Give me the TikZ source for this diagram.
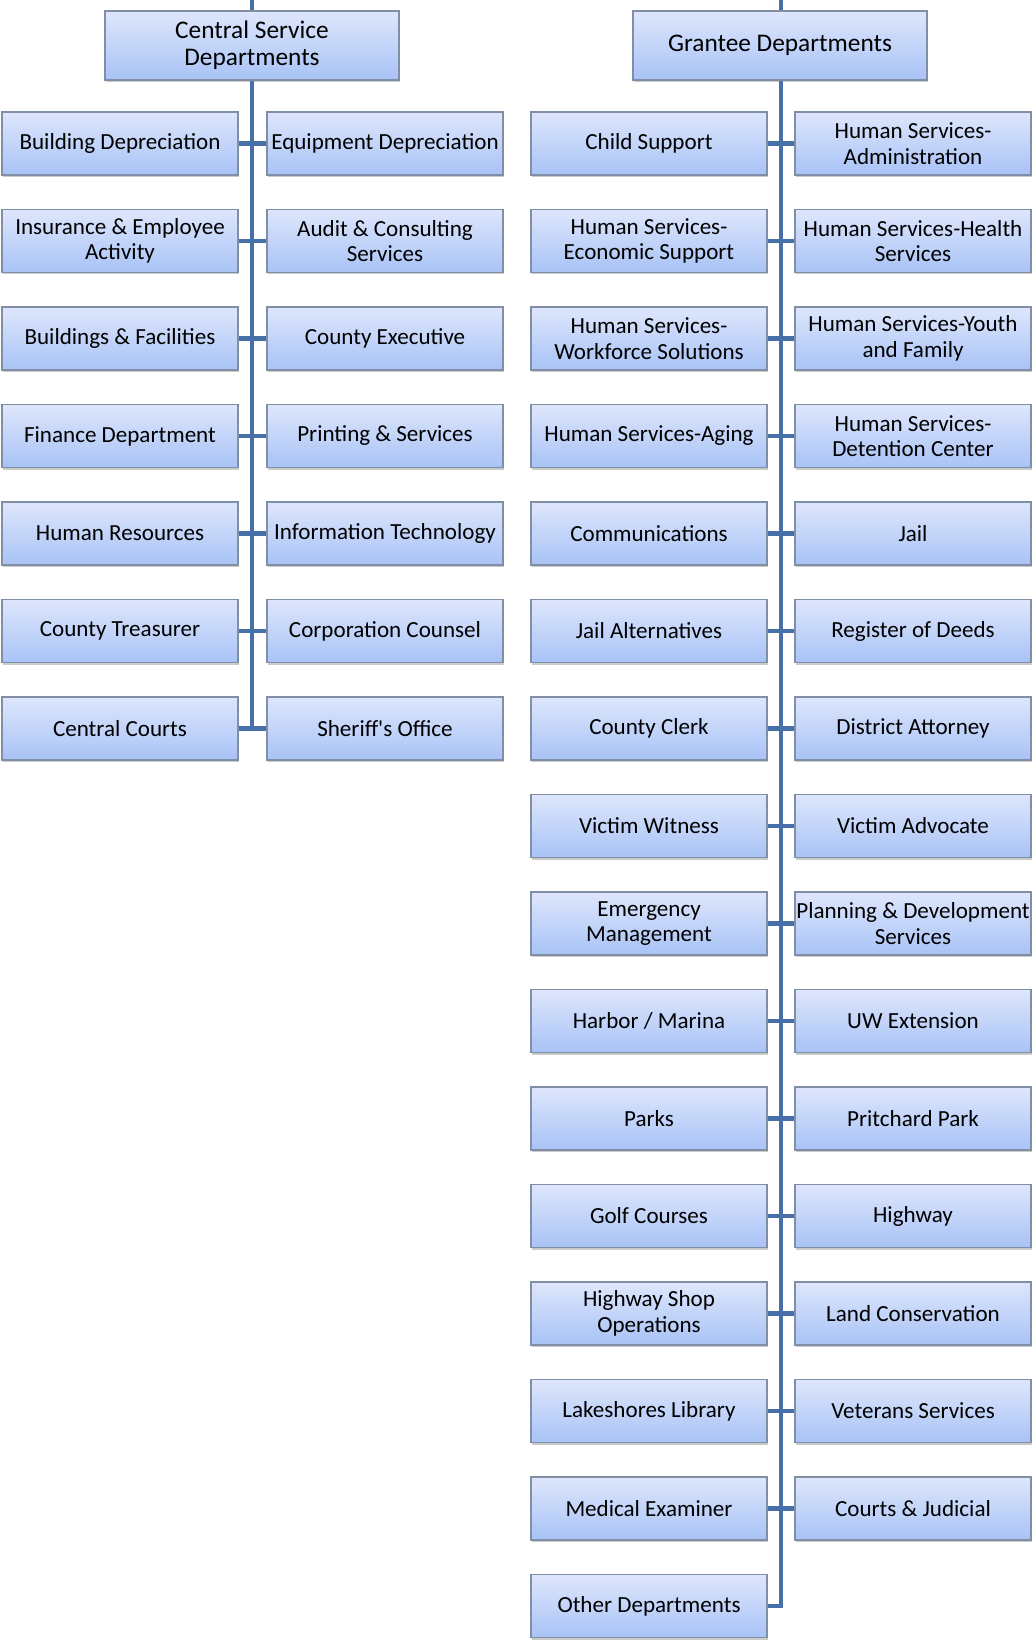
\documentclass[tikz,border=0pt]{standalone}
\usepackage{fontspec}
\setmainfont{Carlito}
\usepackage{tikz}
\usepackage{xcolor}
\usetikzlibrary{shadows}
\definecolor{boxtop}{RGB}{222,230,252}
\definecolor{boxbot}{RGB}{168,195,246}
\definecolor{boxline}{RGB}{128,142,166}
\definecolor{linkblue}{RGB}{72,112,168}
\tikzset{
	dept/.style={draw=boxline, line width=0.8pt, top color=boxtop, bottom color=boxbot,
		minimum width=177pt, minimum height=47.25pt, align=center, inner sep=1pt,
		font=\fontsize{17.3}{19}\selectfont,
		drop shadow={shadow xshift=1pt, shadow yshift=-1.5pt, opacity=0.35, fill=black!60}},
	head/.style={dept, minimum width=220.5pt, minimum height=51.75pt,
		font=\fontsize{19}{20.5}\selectfont},
	link/.style={draw=linkblue, line width=3.2pt}
}
\begin{document}
\begin{tikzpicture}[x=0.75pt,y=-0.75pt]
			\useasboundingbox (0,0) rectangle (1032,1640);
			% headers
			\node[head] (csd) at (252,45.5) {Central Service\\Departments};
			\node[head] (gd) at (780,45.5) {Grantee Departments};
			\coordinate (csdtop) at (252,0);
			\coordinate (gdtop) at (781,0);
			% central service side
			\node[dept] (bd) at (120,143.5) {Building Depreciation};
			\node[dept] (ed) at (385,143.5) {Equipment Depreciation};
			\node[dept] (ie) at (120,241) {Insurance \& Employee\\Activity};
			\node[dept] (ac) at (385,241) {Audit \& Consulting\\Services};
			\node[dept] (bf) at (120,338.5) {Buildings \& Facilities};
			\node[dept] (ce) at (385,338.5) {County Executive};
			\node[dept] (fd) at (120,436) {Finance Department};
			\node[dept] (ps) at (385,436) {Printing \& Services};
			\node[dept] (hr) at (120,533.5) {Human Resources};
			\node[dept] (it) at (385,533.5) {Information Technology};
			\node[dept] (ct) at (120,631) {County Treasurer};
			\node[dept] (cco) at (385,631) {Corporation Counsel};
			\node[dept] (ccts) at (120,728.5) {Central Courts};
			\node[dept] (so) at (385,728.5) {Sheriff\textquotesingle s Office};
			% grantee side
			\node[dept] (cs) at (649,143.5) {Child Support};
			\node[dept] (hsa) at (913,143.5) {Human Services-\\Administration};
			\node[dept] (hse) at (649,241) {Human Services-\\Economic Support};
			\node[dept] (hsh) at (913,241) {Human Services-Health\\Services};
			\node[dept] (hsw) at (649,338.5) {Human Services-\\Workforce Solutions};
			\node[dept] (hsy) at (913,338.5) {Human Services-Youth\\and Family};
			\node[dept] (hsag) at (649,436) {Human Services-Aging};
			\node[dept] (hsd) at (913,436) {Human Services-\\Detention Center};
			\node[dept] (com) at (649,533.5) {Communications};
			\node[dept] (jail) at (913,533.5) {Jail};
			\node[dept] (ja) at (649,631) {Jail Alternatives};
			\node[dept] (rod) at (913,631) {Register of Deeds};
			\node[dept] (cc) at (649,728.5) {County Clerk};
			\node[dept] (da) at (913,728.5) {District Attorney};
			\node[dept] (vw) at (649,826) {Victim Witness};
			\node[dept] (va) at (913,826) {Victim Advocate};
			\node[dept] (em) at (649,923.5) {Emergency\\Management};
			\node[dept] (pd) at (913,923.5) {Planning \& Development\\Services};
			\node[dept] (hm) at (649,1021) {Harbor / Marina};
			\node[dept] (uw) at (913,1021) {UW Extension};
			\node[dept] (parks) at (649,1118.5) {Parks};
			\node[dept] (pp) at (913,1118.5) {Pritchard Park};
			\node[dept] (gc) at (649,1216) {Golf Courses};
			\node[dept] (hwy) at (913,1216) {Highway};
			\node[dept] (hso) at (649,1313.5) {Highway Shop\\Operations};
			\node[dept] (lc) at (913,1313.5) {Land Conservation};
			\node[dept] (ll) at (649,1411) {Lakeshores Library};
			\node[dept] (vs) at (913,1411) {Veterans Services};
			\node[dept] (me) at (649,1508.5) {Medical Examiner};
			\node[dept] (cj) at (913,1508.5) {Courts \& Judicial};
			\node[dept] (od) at (649,1606) {Other Departments};
			% connectors
			\draw[link] (csdtop) -- (csd.north);
			\draw[link] (gdtop) -- (gdtop |- gd.north);
			\draw[link] (csd.south) -- (csd.south |- ccts.east);
			\draw[link] (ccts.east) -- (so.west);
			\draw[link] (bd.east) -- (ed.west);
			\draw[link] (ie.east) -- (ac.west);
			\draw[link] (bf.east) -- (ce.west);
			\draw[link] (fd.east) -- (ps.west);
			\draw[link] (hr.east) -- (it.west);
			\draw[link] (ct.east) -- (cco.west);
			\draw[link] (gdtop |- gd.south) -- (gdtop |- od.east) -- (od.east);
			\draw[link] (cs.east) -- (hsa.west);
			\draw[link] (hse.east) -- (hsh.west);
			\draw[link] (hsw.east) -- (hsy.west);
			\draw[link] (hsag.east) -- (hsd.west);
			\draw[link] (com.east) -- (jail.west);
			\draw[link] (ja.east) -- (rod.west);
			\draw[link] (cc.east) -- (da.west);
			\draw[link] (vw.east) -- (va.west);
			\draw[link] (em.east) -- (pd.west);
			\draw[link] (hm.east) -- (uw.west);
			\draw[link] (parks.east) -- (pp.west);
			\draw[link] (gc.east) -- (hwy.west);
			\draw[link] (hso.east) -- (lc.west);
			\draw[link] (ll.east) -- (vs.west);
			\draw[link] (me.east) -- (cj.west);
		\end{tikzpicture}
\end{document}
